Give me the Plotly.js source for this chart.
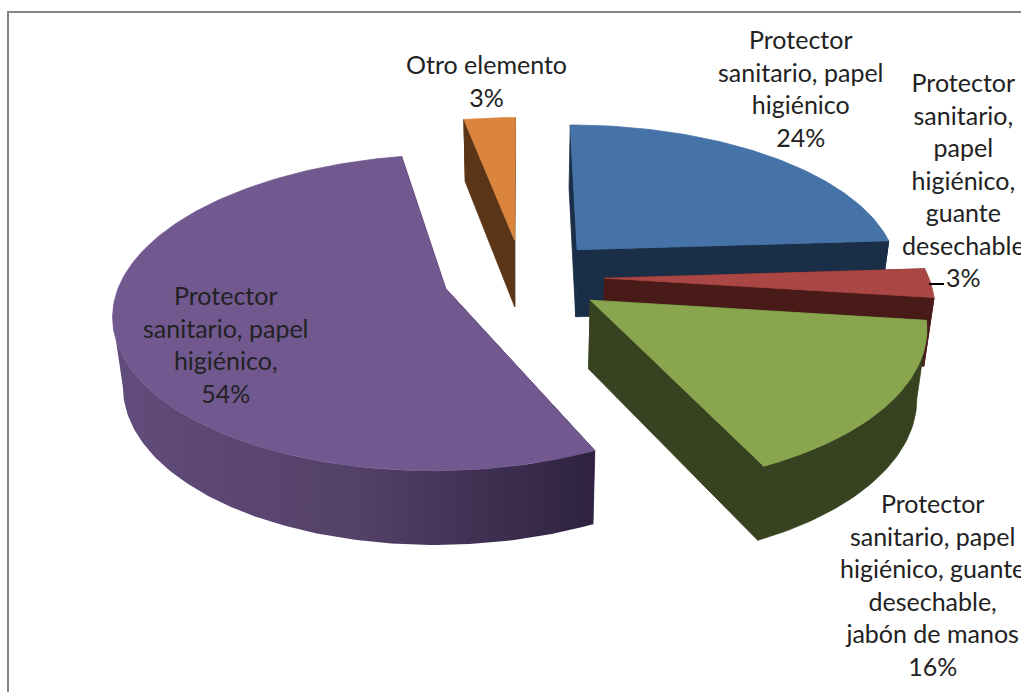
<!DOCTYPE html>
<html>
<head>
<meta charset="utf-8">
<title>Elementos de protección</title>
<script src="https://cdn.plot.ly/plotly-3.0.1.min.js"></script>
<style>html,body{margin:0;padding:0;background:#fff;overflow:hidden}#chart{width:1021px;height:692px}</style>
</head>
<body>
<div id="chart"></div>
<script>
// Share of each answer, in clockwise order starting at twelve o'clock
const categories = [
  'Protector<br>sanitario, papel<br>higiénico',
  'Protector<br>sanitario,<br>papel<br>higiénico,<br>guante<br>desechable',
  'Protector<br>sanitario, papel<br>higiénico, guante<br>desechable,<br>jabón de manos',
  'Protector<br>sanitario, papel<br>higiénico,',
  'Otro elemento'
];
const shares = [24, 3, 16, 54, 3];
const topColors = ['#4572A7', '#AA4643', '#89A54E', '#71588F', '#DB843D'];
const wallColors = ['#1B2E47', '#481B18', '#374220', '#3F2F54', '#5A3517'];
const explodeBy = [0.255, 0.255, 0.255, 0.245, 0.255];
const labelX = [801, 963, 932, 226, 486];
const labelY = [88, 179.5, 584, 343.5, 80];

// Perspective projection of the exploded disc
const view = {cx: 522, cy: 277, radius: 324, tilt: 151, perspX: 0.145, perspY: 0.15, depth: 68, floorScale: 0.975};

function project(X, Z, down) {
  const px = 1 / (1 + view.perspX * Z), py = 1 / (1 + view.perspY * Z);
  const sx = view.radius * X * px * (down ? view.floorScale : 1);
  return [
    view.cx + sx,
    view.cy - view.tilt * Z * py + (down ? view.depth * Math.sqrt(py) : 0)
  ];
}

function sliceGeometry(startDeg, endDeg, explode) {
  const toRad = Math.PI / 180, mid = (startDeg + endDeg) / 2 * toRad;
  const ox = explode * Math.sin(mid), oz = explode * Math.cos(mid);
  const rim = [];
  const steps = Math.max(4, Math.ceil(endDeg - startDeg));
  for (let i = 0; i <= steps; i++) {
    const a = (startDeg + (endDeg - startDeg) * i / steps) * toRad;
    rim.push([ox + Math.sin(a), oz + Math.cos(a)]);
  }
  return {apex: [ox, oz], rim, onRight: ox > 0};
}

function polygon(points, extra) {
  return Object.assign({
    type: 'scatter', mode: 'lines', fill: 'toself', hoverinfo: 'skip', showlegend: false,
    x: points.map(q => q[0]).concat(points[0][0]),
    y: points.map(q => q[1]).concat(points[0][1]),
    line: {width: 0}
  }, extra);
}

// Part of the rim facing the viewer: from the widest point round to the front
function frontRim(g) {
  const xs = g.rim.map(q => project(q[0], q[1])[0]);
  const edge = g.onRight ? Math.max(...xs) : Math.min(...xs);
  const at = xs.indexOf(edge);
  return g.onRight ? g.rim.slice(at) : g.rim.slice(0, at + 1);
}

const drawOrder = [4, 0, 1, 2, 3];
const starts = shares.map((_, i) => shares.slice(0, i).reduce((a, b) => a + b, 0) * 3.6);
const traces = [];

drawOrder.forEach(i => {
  const g = sliceGeometry(starts[i], starts[i] + shares[i] * 3.6, explodeBy[i]);
  const P = (q, d) => project(q[0], q[1], d);
  const first = g.rim[0], last = g.rim[g.rim.length - 1];
  const wall = {fillcolor: wallColors[i], line: {width: 0.8, color: wallColors[i]}};

  // Cut faces running from the centre of the slice out to the rim
  traces.push(polygon([P(g.apex), P(first), P(first, true), P(g.apex, true)], wall));
  traces.push(polygon([P(g.apex), P(last), P(last, true), P(g.apex, true)], wall));

  // Outer curved wall; the large slice carries a left-to-right shade
  const front = frontRim(g);
  const outer = front.map(q => P(q)).concat(front.slice().reverse().map(q => P(q, true)));
  const outerStyle = i === 3
    ? {fillgradient: {type: 'horizontal', colorscale: [[0, '#624C7C'], [0.5, '#544168'], [1, '#2E2240']]},
       line: {width: 0}}
    : wall;
  traces.push(polygon(outer, outerStyle));

  // Top face
  const top = [P(g.apex)].concat(g.rim.map(q => P(q)));
  traces.push(polygon(top, {fillcolor: topColors[i], line: {width: 0.8, color: topColors[i]}}));
});

const annotations = categories.map((name, i) => ({
  x: labelX[i], y: labelY[i], xref: 'x', yref: 'y',
  text: name + '<br>' + shares[i] + '%',
  showarrow: false, align: 'center', xanchor: 'center', yanchor: 'middle',
  font: {family: 'Lato, "Open Sans", sans-serif', size: 25, color: '#222222'}
}));

const layout = {
  width: 1021, height: 692,
  margin: {l: 0, r: 0, t: 0, b: 0},
  paper_bgcolor: '#ffffff', plot_bgcolor: '#ffffff',
  xaxis: {range: [0, 1021], visible: false, fixedrange: true},
  yaxis: {range: [692, 0], visible: false, fixedrange: true},
  shapes: [
    // Chart frame, running past the right and bottom edges of the page
    {type: 'rect', xref: 'x', yref: 'y', x0: 8, y0: 12, x1: 1040, y1: 710, layer: 'below',
     line: {color: '#868686', width: 2}},
    // Leader from the small red slice to its label
    {type: 'line', xref: 'x', yref: 'y', x0: 929, y0: 284, x1: 944, y1: 284,
     line: {color: '#000000', width: 2}}
  ],
  annotations
};

Plotly.newPlot('chart', traces, layout, {displayModeBar: false, staticPlot: true});
</script>
</body>
</html>
